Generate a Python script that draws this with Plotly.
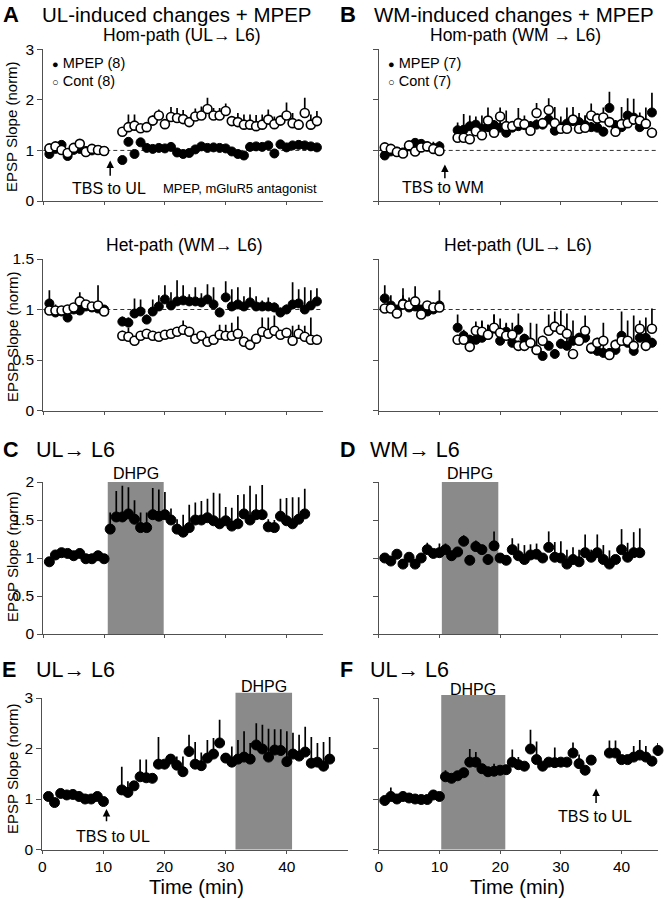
import plotly.graph_objects as go

# ---------------- data ----------------
t_pre = list(range(1, 11))
t_post = list(range(13, 46))

# A top: Hom-path (UL->L6)
a_hom_mpep = [0.93, 1.03, 1.11, 0.89, 1.01, 1.03, 0.99, 1.00, 1.01, 0.99,
              0.81, 1.17, 0.93, 1.16, 1.05, 1.03, 1.05, 1.04, 1.07, 0.96, 0.93, 0.95, 1.02, 1.08, 1.05, 1.06, 1.05,
              1.04, 0.98, 0.93, 0.90, 1.07, 1.08, 1.07, 1.10, 0.94, 1.12, 1.06, 1.10, 1.11, 1.10, 1.08, 1.06]
a_hom_mpep_err = [0.03] * 10 + [0.05] * 33
a_hom_cont = [1.04, 1.08, 1.01, 0.95, 1.05, 1.13, 0.97, 1.03, 1.01, 0.99,
              1.37, 1.46, 1.49, 1.44, 1.46, 1.59, 1.69, 1.52, 1.66, 1.64, 1.62, 1.56, 1.67, 1.69, 1.82, 1.69, 1.69,
              1.78, 1.58, 1.56, 1.51, 1.51, 1.48, 1.51, 1.61, 1.52, 1.59, 1.69, 1.54, 1.51, 1.74, 1.51, 1.58]
a_hom_cont_err = [0.04] * 10 + [0.05, 0.25, 0.22, 0.08, 0.08, 0.10, 0.12, 0.10, 0.20, 0.20, 0.18, 0.10, 0.16,
                                0.18, 0.22, 0.15, 0.15, 0.15, 0.08, 0.18, 0.20, 0.20, 0.22, 0.20, 0.20, 0.15,
                                0.10, 0.26, 0.20, 0.10, 0.30, 0.20, 0.20]

# A bottom: Het-path (WM->L6)
a_het_mpep = [1.06, 0.97, 0.98, 0.92, 1.00, 0.99, 1.03, 1.02, 1.01, 1.00,
              0.88, 0.87, 0.96, 0.98, 0.90, 0.98, 1.03, 1.10, 1.04, 1.08, 1.09, 1.08, 1.08, 1.07, 1.10, 1.05, 0.97,
              1.12, 1.03, 1.05, 1.03, 1.07, 1.03, 1.03, 1.03, 1.02, 0.97, 1.00, 1.05, 1.06, 1.00, 1.04, 1.08]
a_het_mpep_err = [0.13, 0.08, 0.04, 0.04, 0.04, 0.04, 0.04, 0.04, 0.04, 0.04,
                  0.05, 0.05, 0.15, 0.12, 0.05, 0.12, 0.11, 0.14, 0.13, 0.21, 0.15, 0.07, 0.14, 0.09, 0.15, 0.17,
                  0.05, 0.16, 0.17, 0.17, 0.10, 0.15, 0.10, 0.06, 0.09, 0.05, 0.05, 0.05, 0.22, 0.14, 0.22, 0.15, 0.13]
a_het_cont = [0.99, 0.99, 0.99, 1.00, 1.02, 1.08, 1.05, 1.03, 1.04, 0.98,
              0.74, 0.73, 0.69, 0.74, 0.76, 0.74, 0.73, 0.75, 0.76, 0.78, 0.80, 0.78, 0.71, 0.74, 0.68, 0.70, 0.75,
              0.74, 0.74, 0.76, 0.68, 0.65, 0.71, 0.78, 0.76, 0.79, 0.75, 0.77, 0.69, 0.76, 0.73, 0.70, 0.70]
a_het_cont_err = [0.03, 0.03, 0.03, 0.03, 0.03, 0.09, 0.03, 0.03, 0.20, 0.03,
                  0.05, 0.09, 0.03, 0.03, 0.03, 0.03, 0.03, 0.03, 0.03, 0.03, 0.09, 0.03, 0.03, 0.03, 0.03, 0.03,
                  0.10, 0.11, 0.13, 0.17, 0.05, 0.03, 0.03, 0.14, 0.16, 0.15, 0.03, 0.03, 0.15, 0.09, 0.11, 0.22, 0.05]

# B top: Hom-path (WM->L6)
b_hom_mpep = [0.90, 0.98, 0.98, 0.96, 1.08, 1.15, 1.13, 1.08, 1.05, 1.08,
              1.40, 1.41, 1.48, 1.51, 1.43, 1.46, 1.50, 1.45, 1.35, 1.45, 1.48, 1.50, 1.48, 1.51, 1.51, 1.61, 1.39,
              1.46, 1.53, 1.58, 1.56, 1.50, 1.46, 1.45, 1.37, 1.84, 1.50, 1.46, 1.69, 1.65, 1.46, 1.52, 1.75]
b_hom_mpep_err = [0.03, 0.03, 0.03, 0.03, 0.05, 0.05, 0.05, 0.05, 0.12, 0.10,
                  0.15, 0.31, 0.21, 0.16, 0.26, 0.10, 0.10, 0.20, 0.10, 0.10, 0.10, 0.19, 0.10, 0.10, 0.10, 0.10,
                  0.10, 0.21, 0.10, 0.28, 0.18, 0.19, 0.10, 0.24, 0.10, 0.32, 0.10, 0.10, 0.34, 0.37, 0.10, 0.10, 0.39]
b_hom_cont = [1.06, 1.03, 0.97, 0.94, 1.10, 0.98, 1.06, 1.08, 1.03, 0.99,
              1.25, 1.25, 1.22, 1.38, 1.30, 1.59, 1.35, 1.67, 1.48, 1.48, 1.54, 1.52, 1.39, 1.74, 1.54, 1.80, 1.54,
              1.43, 1.43, 1.61, 1.43, 1.45, 1.69, 1.63, 1.65, 1.56, 1.37, 1.52, 1.54, 1.61, 1.59, 1.53, 1.35]
b_hom_cont_err = [0.03] * 10 + [0.05, 0.05, 0.05, 0.05, 0.05, 0.26, 0.05, 0.18, 0.31, 0.10, 0.30, 0.10, 0.10,
                                0.20, 0.10, 0.23, 0.32, 0.10, 0.42, 0.10, 0.10, 0.24, 0.24, 0.10, 0.20, 0.10,
                                0.10, 0.34, 0.10, 0.10, 0.16, 0.32, 0.10]

# B bottom: Het-path (UL->L6)
b_het_mpep = [1.11, 1.04, 1.00, 1.06, 1.02, 1.03, 1.00, 0.98, 1.00, 1.04,
              0.82, 0.74, 0.70, 0.70, 0.72, 0.75, 0.81, 0.69, 0.78, 0.67, 0.80, 0.71, 0.67, 0.60, 0.54, 0.64, 0.56,
              0.66, 0.64, 0.69, 0.72, 0.72, 0.61, 0.59, 0.57, 0.57, 0.60, 0.74, 0.67, 0.59, 0.72, 0.72, 0.67]
b_het_mpep_err = [0.13, 0.10, 0.03, 0.08, 0.10, 0.05, 0.03, 0.10, 0.03, 0.15,
                  0.13, 0.05, 0.05, 0.18, 0.17, 0.10, 0.14, 0.05, 0.09, 0.20, 0.16, 0.05, 0.05, 0.26, 0.05, 0.05,
                  0.05, 0.05, 0.32, 0.20, 0.05, 0.05, 0.05, 0.05, 0.30, 0.05, 0.05, 0.24, 0.05, 0.35, 0.05, 0.05, 0.05]
b_het_cont = [1.01, 1.01, 0.96, 1.05, 1.04, 1.08, 0.95, 1.04, 1.02, 1.02,
              0.70, 0.70, 0.63, 0.79, 0.78, 0.75, 0.82, 0.77, 0.74, 0.75, 0.64, 0.64, 0.67, 0.60, 0.69, 0.79, 0.83,
              0.80, 0.76, 0.56, 0.69, 0.79, 0.62, 0.67, 0.69, 0.55, 0.65, 0.69, 0.69, 0.64, 0.81, 0.64, 0.81]
b_het_cont_err = [0.05, 0.03, 0.03, 0.16, 0.03, 0.15, 0.03, 0.03, 0.05, 0.03,
                  0.05, 0.10, 0.05, 0.05, 0.10, 0.10, 0.13, 0.14, 0.12, 0.05, 0.05, 0.05, 0.20, 0.05, 0.05, 0.16,
                  0.15, 0.19, 0.05, 0.05, 0.05, 0.15, 0.05, 0.05, 0.05, 0.05, 0.05, 0.05, 0.20, 0.05, 0.08, 0.28, 0.20]

# C: UL->L6, DHPG
c_t = list(range(1, 44))
c_y = [0.95, 1.04, 1.07, 1.06, 1.03, 1.06, 0.99, 0.99, 1.03, 0.99,
       1.38, 1.54, 1.54, 1.58, 1.51, 1.40, 1.40, 1.57, 1.55, 1.57, 1.50, 1.38, 1.34, 1.40, 1.50, 1.50, 1.53,
       1.49, 1.45, 1.49, 1.42, 1.45, 1.58, 1.50, 1.57, 1.57, 1.41, 1.40, 1.55, 1.49, 1.45, 1.51, 1.58]
c_err = [0.02] * 10 + [0.22, 0.34, 0.41, 0.35, 0.25, 0.20, 0.20, 0.35, 0.35, 0.30, 0.15, 0.13, 0.23, 0.30,
                       0.23, 0.25, 0.25, 0.37, 0.40, 0.18, 0.24, 0.38, 0.26, 0.45, 0.27, 0.39, 0.10, 0.10,
                       0.23, 0.30, 0.35, 0.29, 0.33]

# D: WM->L6, DHPG
d_t = list(range(1, 44))
d_y = [1.00, 0.96, 1.05, 0.92, 1.01, 0.92, 1.00, 1.11, 1.06, 1.07, 1.11, 1.03, 1.08, 1.22, 0.97, 1.15, 1.11,
       0.98, 1.16, 1.00, 0.97, 1.11, 1.03, 0.98, 1.04, 1.05, 1.00, 1.14, 1.01, 1.00, 0.92, 0.98, 0.95, 1.07,
       1.01, 1.07, 0.98, 0.92, 0.98, 1.11, 1.01, 1.07, 1.07]
d_err = [0.05, 0.02, 0.03, 0.02, 0.02, 0.02, 0.02, 0.09, 0.03, 0.12, 0.08, 0.03, 0.05, 0.08, 0.03, 0.08, 0.04,
         0.03, 0.19, 0.03, 0.05, 0.15, 0.16, 0.19, 0.14, 0.14, 0.05, 0.21, 0.20, 0.22, 0.19, 0.16, 0.16, 0.24,
         0.10, 0.24, 0.19, 0.18, 0.05, 0.27, 0.19, 0.27, 0.32]

# E: UL->L6, TBS then DHPG
e_t = list(range(1, 11)) + list(range(13, 48))
e_y = [1.05, 0.93, 1.11, 1.08, 1.09, 1.05, 1.00, 1.00, 1.05, 0.95,
       1.18, 1.13, 1.26, 1.44, 1.42, 1.41, 1.69, 1.69, 1.79, 1.67, 1.54, 1.94, 1.69, 1.66, 1.81, 1.89, 2.11,
       1.81, 1.73, 1.79, 1.83, 1.79, 2.07, 1.99, 1.83, 1.97, 1.96, 1.74, 1.89, 1.85, 1.93, 1.71, 1.73, 1.65, 1.79]
e_err = [0.03, 0.03, 0.03, 0.03, 0.03, 0.03, 0.05, 0.05, 0.04, 0.03,
         0.46, 0.22, 0.05, 0.34, 0.36, 0.05, 0.54, 0.05, 0.05, 0.17, 0.30, 0.33, 0.44, 0.26, 0.36, 0.32, 0.46,
         0.10, 0.31, 0.38, 0.51, 0.32, 0.43, 0.48, 0.56, 0.41, 0.42, 0.60, 0.42, 0.42, 0.50, 0.52, 0.38, 0.48, 0.44]

# F: UL->L6, DHPG then TBS
f_t = list(range(1, 36)) + list(range(38, 47))
f_y = [0.97, 1.05, 1.00, 1.05, 1.02, 1.00, 0.99, 0.99, 1.08, 1.05, 1.44, 1.41, 1.46, 1.52, 1.73, 1.73, 1.60,
       1.54, 1.55, 1.57, 1.58, 1.73, 1.68, 1.65, 1.99, 1.78, 1.65, 1.73, 1.72, 1.73, 1.73, 1.91, 1.70, 1.57, 1.77,
       1.91, 1.91, 1.78, 1.78, 1.83, 1.87, 1.83, 1.75, 1.96]
f_err = [0.03, 0.18, 0.03, 0.03, 0.03, 0.03, 0.03, 0.03, 0.10, 0.03, 0.13, 0.05, 0.05, 0.10, 0.26, 0.20, 0.05,
         0.05, 0.15, 0.08, 0.05, 0.25, 0.15, 0.08, 0.38, 0.36, 0.05, 0.05, 0.30, 0.05, 0.05, 0.21, 0.18, 0.05, 0.05,
         0.25, 0.25, 0.05, 0.05, 0.22, 0.30, 0.22, 0.05, 0.15]

# drug windows (min)
dhpg_c = [10.6, 19.8]
dhpg_d = [10.4, 19.7]
dhpg_e = [31.6, 40.85]
dhpg_f = [10.3, 20.85]

tbs_a = 11.0
tbs_b = 10.9
tbs_e = 10.5
tbs_f = 35.8

ytick_3 = [0, 1, 2, 3]
ytick_15 = [0, 0.5, 1, 1.5]
ytick_2 = [0, 0.5, 1, 1.5, 2]
xticks = [0, 10, 20, 30, 40]

# ---------------- layout helpers ----------------
W, H = 667, 899
FONT = "Liberation Sans, Arial, sans-serif"


def fx(p):
    return p / W


def fy(p):
    return 1 - p / H


fig = go.Figure()

AXCOL = "#505050"
# idx: (x0px, x1px, ytop_px, ybot_px, xrange, yrange, yticks, ylabels, xlabels)
axes = {
    1: (43.3, 323.0, 49.3, 201.0, [0, 46], [0, 3], ytick_3, True, False),
    2: (378.7, 658.0, 49.3, 201.0, [0, 46], [0, 3], ytick_3, False, False),
    3: (43.3, 323.0, 259.0, 410.5, [0, 46], [0, 1.5], ytick_15, True, False),
    4: (378.7, 658.0, 259.0, 410.5, [0, 46], [0, 1.5], ytick_15, False, False),
    5: (43.3, 323.0, 482.0, 634.0, [0, 46], [0, 2], ytick_2, True, False),
    6: (378.7, 658.0, 482.0, 634.0, [0, 46], [0, 2], ytick_2, False, False),
    7: (42.3, 348.0, 698.0, 849.5, [0, 50], [0, 3], ytick_3, True, True),
    8: (378.7, 658.0, 698.0, 849.5, [0, 46], [0, 3], ytick_3, False, True),
}

lay = {}
for i, (x0, x1, yt, yb, xr, yr, yt_vals, ylab, xlab) in axes.items():
    xn = "xaxis" if i == 1 else f"xaxis{i}"
    yn = "yaxis" if i == 1 else f"yaxis{i}"
    lay[xn] = dict(domain=[fx(x0), fx(x1)], range=xr, anchor=("y" if i == 1 else f"y{i}"),
                   showline=True, linecolor=AXCOL, linewidth=1.3, ticks="outside", ticklen=3,
                   tickcolor=AXCOL, tickwidth=1.3, tickvals=xticks, showticklabels=xlab, automargin=False,
                   tickfont=dict(size=15.5, color="black", family=FONT), showgrid=False, zeroline=False)
    lay[yn] = dict(domain=[fy(yb), fy(yt)], range=yr, anchor=("x" if i == 1 else f"x{i}"),
                   showline=True, linecolor=AXCOL, linewidth=1.3, ticks="outside", ticklen=5,
                   tickcolor=AXCOL, tickwidth=1.3, tickvals=yt_vals, automargin=False,
                   ticktext=[("%g" % v) for v in yt_vals], showticklabels=ylab,
                   tickfont=dict(size=15.5, color="black", family=FONT), showgrid=False, zeroline=False)


def axn(i):
    return ("x" if i == 1 else f"x{i}"), ("y" if i == 1 else f"y{i}")


def add_series(i, x, y, err, filled, size=9):
    xa, ya = axn(i)
    fig.add_trace(go.Scatter(
        x=x, y=y, mode="markers", xaxis=xa, yaxis=ya, showlegend=False, cliponaxis=False,
        marker=dict(size=size, color="black" if filled else "white",
                    line=dict(color="black", width=1 if filled else 1.6)),
        error_y=dict(type="data", symmetric=False, array=err, arrayminus=[0] * len(err),
                     color="black", thickness=1.7, width=0),
    ))


tAB = t_pre + t_post
add_series(1, tAB, a_hom_mpep, a_hom_mpep_err, True)
add_series(1, tAB, a_hom_cont, a_hom_cont_err, False)
add_series(3, tAB, a_het_mpep, a_het_mpep_err, True)
add_series(3, tAB, a_het_cont, a_het_cont_err, False)
add_series(2, tAB, b_hom_mpep, b_hom_mpep_err, True)
add_series(2, tAB, b_hom_cont, b_hom_cont_err, False)
add_series(4, tAB, b_het_mpep, b_het_mpep_err, True)
add_series(4, tAB, b_het_cont, b_het_cont_err, False)
add_series(5, c_t, c_y, c_err, True, 10)
add_series(6, d_t, d_y, d_err, True, 10)
add_series(7, e_t, e_y, e_err, True, 10)
add_series(8, f_t, f_y, f_err, True, 10)

shapes = []
# dashed reference lines at 1
for i in (1, 2, 3, 4):
    xa, ya = axn(i)
    shapes.append(dict(type="line", xref=f"{xa} domain", yref=ya, x0=0, x1=1, y0=1, y1=1,
                       line=dict(color="#333", width=1, dash="4px,3px"), layer="below"))
# DHPG shading
GRAY = "#8a8a8a"
for i, win, top in ((5, dhpg_c, 1.0), (6, dhpg_d, 1.0), (7, dhpg_e, 1.035), (8, dhpg_f, 1.02)):
    xa, ya = axn(i)
    shapes.append(dict(type="rect", xref=xa, yref=f"{ya} domain", x0=win[0], x1=win[1], y0=0, y1=top,
                       fillcolor=GRAY, line=dict(width=0), layer="below"))

ann = []


def txt(x, y, s, size, anchor="center", bold=False, xref="paper", yref="paper", angle=0, yanchor="middle"):
    ann.append(dict(x=x, y=y, xref=xref, yref=yref, text=(f"<b>{s}</b>" if bold else s), showarrow=False,
                    xanchor=anchor, yanchor=yanchor, textangle=angle, borderpad=0,
                    font=dict(size=size, color="black", family=FONT)))


# panel headings
txt(fx(2), fy(14), "A", 22, "left", True)
txt(fx(177), fy(14), "UL-induced changes + MPEP", 20.5)
txt(fx(182), fy(35), "Hom-path (UL→ L6)", 17.5)
txt(fx(339), fy(14), "B", 22, "left", True)
txt(fx(514), fy(14), "WM-induced changes + MPEP", 20.5)
txt(fx(515), fy(35), "Hom-path (WM → L6)", 17.5)
txt(fx(184), fy(245), "Het-path (WM→ L6)", 17.5)
txt(fx(518), fy(245), "Het-path (UL→ L6)", 17.5)
txt(fx(2), fy(450), "C", 21.5, "left", True)
txt(fx(35), fy(450), "UL→ L6", 21.5, "left")
txt(fx(339), fy(450), "D", 21.5, "left", True)
txt(fx(369), fy(450), "WM→ L6", 21.5, "left")
txt(fx(1), fy(670), "E", 21.5, "left", True)
txt(fx(35), fy(670), "UL→ L6", 21.5, "left")
txt(fx(339), fy(670), "F", 21.5, "left", True)
txt(fx(369), fy(670), "UL→ L6", 21.5, "left")

# y axis titles
for yc in (127, 337, 557, 769):
    txt(fx(12), fy(yc), "EPSP Slope (norm)", 15, angle=-90)

# x axis titles
txt(fx(196), fy(886.5), "Time (min)", 20)
txt(fx(517), fy(886.5), "Time (min)", 20)

# legends
txt(fx(51), fy(63), "<span style='font-size:11px'>●</span> MPEP (8)", 14.5, "left")
txt(fx(51), fy(81), "<span style='font-size:11px'>○</span> Cont (8)", 14.5, "left")
txt(fx(387), fy(63), "<span style='font-size:11px'>●</span> MPEP (7)", 14.5, "left")
txt(fx(387), fy(81), "<span style='font-size:11px'>○</span> Cont (7)", 14.5, "left")

# DHPG labels
for i, win, ypx in ((5, dhpg_c, 473), (6, dhpg_d, 473), (7, dhpg_e, 686), (8, dhpg_f, 689)):
    xa, ya = axn(i)
    txt((win[0] + win[1]) / 2, fy(ypx), "DHPG", 16, xref=xa)


def arrow(i, x, y_tip, y_tail):
    xa, ya = axn(i)
    ann.append(dict(x=x, y=y_tip, ax=x, ay=y_tail, xref=xa, yref=ya, axref=xa, ayref=ya, text="",
                    showarrow=True, arrowhead=2, arrowsize=1, arrowwidth=1.5, arrowcolor="black"))


arrow(1, tbs_a, 0.80, 0.47)
txt(10.8, 0.25, "TBS to UL", 16, xref="x", yref="y")
txt(32.4, 0.25, "MPEP, mGluR5 antagonist", 13, xref="x", yref="y")
arrow(2, tbs_b, 0.72, 0.42)
txt(10.6, 0.26, "TBS to WM", 16, xref="x2", yref="y2")
arrow(7, tbs_e, 0.80, 0.53)
txt(11.5, 0.26, "TBS to UL", 16, xref="x7", yref="y7")
arrow(8, tbs_f, 1.21, 0.89)
txt(35.7, 0.66, "TBS to UL", 16, xref="x8", yref="y8")

fig.update_layout(
    width=W, height=H, margin=dict(l=0, r=0, t=0, b=0, autoexpand=False),
    paper_bgcolor="white", plot_bgcolor="white",
    font=dict(family=FONT, color="black"),
    shapes=shapes, annotations=ann, showlegend=False,
    **lay,
)

# remove the browser's default 8 px page margin so the figure fills the window exactly
fig.write_html("out.html", config={"displayModeBar": False},
               post_script="document.body.style.margin='0px';document.body.style.overflow='hidden';")
